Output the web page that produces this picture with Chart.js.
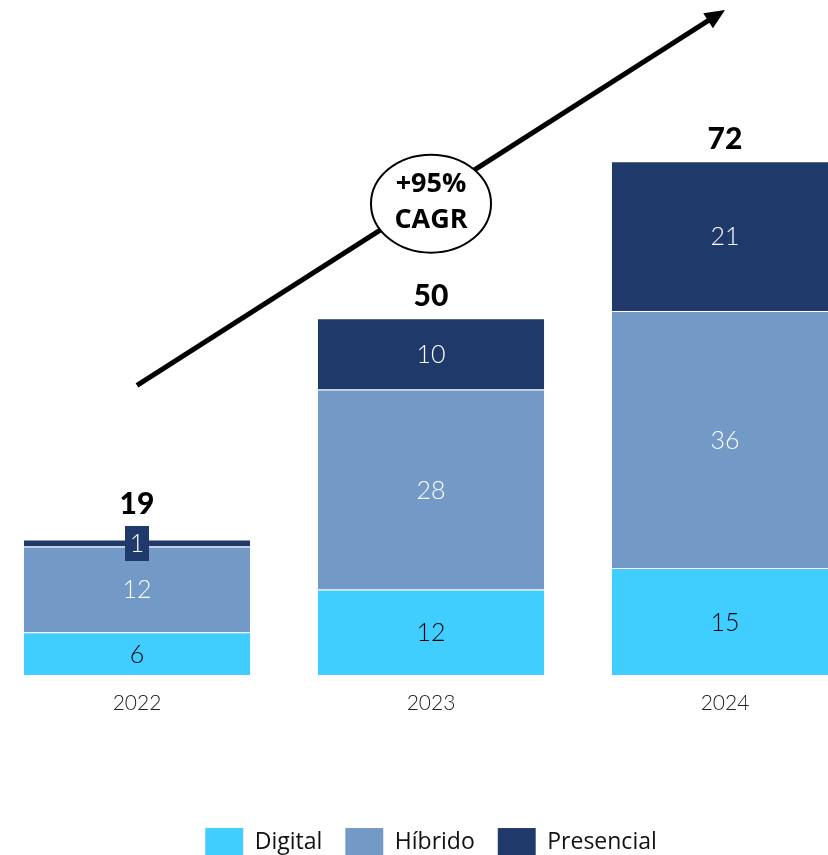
<!DOCTYPE html>
<html>
<head>
<meta charset="utf-8">
<script src="https://cdn.jsdelivr.net/npm/chart.js@4.4.1/dist/chart.umd.min.js"></script>
<style>
  html, body { margin: 0; padding: 0; background: #fff; overflow: hidden; }
  #wrap { position: absolute; left: -10px; top: 0; width: 882px; height: 867px; }
</style>
</head>
<body>
<div id="wrap"><canvas id="chart"></canvas></div>
<script>
const years = ["2022", "2023", "2024"];
const digital = [6, 12, 15];
const hibrido = [12, 28, 36];
const presencial = [1, 10, 21];
const totals = [19, 50, 72];
const cagrText = ["+95%", "CAGR"];
// arrow start/end as [category index, value]
const arrowFrom = [0, 40.6];
const arrowTo = [2, 93.2];

const labelColors = ["#000", "#fff", "#fff"];

const overlay = {
    id: "overlay",
    afterDatasetsDraw(chart) {
        const ctx = chart.ctx;
        const x = chart.scales.x, y = chart.scales.y;
        ctx.save();
        ctx.textAlign = "center";
        ctx.textBaseline = "middle";

        // segment labels
        chart.data.datasets.forEach((ds, di) => {
            const meta = chart.getDatasetMeta(di);
            meta.data.forEach((bar, i) => {
                const h = Math.abs(bar.base - bar.y);
                const cy = (bar.y + bar.base) / 2;
                ctx.font = "300 25px Lato, 'DejaVu Sans', sans-serif";
                if (h < 20) {
                    ctx.fillStyle = ds.backgroundColor;
                    ctx.fillRect(bar.x - 12, cy - 17, 24, 35);
                }
                ctx.fillStyle = labelColors[di];
                ctx.fillText(String(ds.data[i]), bar.x, cy + 1);
            });
        });

        // totals
        const last = chart.getDatasetMeta(2);
        last.data.forEach((bar, i) => {
            const h = Math.abs(bar.base - bar.y);
            const top = h < 20 ? (bar.y + bar.base) / 2 - 17 : bar.y;
            ctx.font = "900 30px Lato, 'DejaVu Sans', sans-serif";
            ctx.fillStyle = "#000";
            ctx.fillText(String(totals[i]), bar.x, top - 22);
        });

        // arrow
        const x1 = x.getPixelForValue(arrowFrom[0]), y1 = y.getPixelForValue(arrowFrom[1]);
        const x2 = x.getPixelForValue(arrowTo[0]), y2 = y.getPixelForValue(arrowTo[1]);
        const ang = Math.atan2(y2 - y1, x2 - x1);
        const head = 22;
        ctx.strokeStyle = "#000";
        ctx.lineWidth = 5;
        ctx.beginPath();
        ctx.moveTo(x1, y1);
        ctx.lineTo(x2 - Math.cos(ang) * head * 0.8, y2 - Math.sin(ang) * head * 0.8);
        ctx.stroke();
        ctx.fillStyle = "#000";
        ctx.beginPath();
        ctx.moveTo(x2, y2);
        ctx.lineTo(x2 - head * Math.cos(ang - 0.42), y2 - head * Math.sin(ang - 0.42));
        ctx.lineTo(x2 - head * Math.cos(ang + 0.42), y2 - head * Math.sin(ang + 0.42));
        ctx.closePath();
        ctx.fill();

        // CAGR bubble
        const mx = (x1 + x2) / 2, my = (y1 + y2) / 2 + 3;
        ctx.beginPath();
        ctx.ellipse(mx, my + 3, 60, 49, 0, 0, Math.PI * 2);
        ctx.fillStyle = "#fff";
        ctx.fill();
        ctx.lineWidth = 2;
        ctx.stroke();
        ctx.fillStyle = "#000";
        ctx.font = "bold 27px 'Open Sans', 'DejaVu Sans', sans-serif";
        ctx.fillText(cagrText[0], mx, my - 16);
        ctx.fillText(cagrText[1], mx, my + 20);
        ctx.restore();
    }
};

new Chart(document.getElementById("chart"), {
    type: "bar",
    data: {
        labels: years,
        datasets: [
            { label: "Digital", data: digital, backgroundColor: "#40CDFF" },
            { label: "Híbrido", data: hibrido, backgroundColor: "#7399C6" },
            { label: "Presencial", data: presencial, backgroundColor: "#1F396B" }
        ]
    },
    options: {
        responsive: true,
        maintainAspectRatio: false,
        animation: false,
        layout: { padding: 0 },
        datasets: {
            bar: {
                barPercentage: 1,
                categoryPercentage: 0.77,
                borderColor: "rgba(255,255,255,0.35)",
                borderWidth: { top: 1 }
            }
        },
        scales: {
            x: {
                stacked: true,
                grid: { display: false },
                border: { display: false },
                ticks: {
                    color: "#222",
                    font: { family: "Lato", size: 21, weight: "300" },
                    padding: 8
                },
                afterFit(s) { s.height = 130; }
            },
            y: {
                stacked: true,
                display: false,
                min: 0,
                max: 94.6
            }
        },
        plugins: {
            legend: {
                position: "bottom",
                labels: {
                    boxWidth: 38,
                    boxHeight: 29,
                    padding: 23,
                    color: "#111",
                    font: { family: "'Open Sans'", size: 23 }
                }
            },
            tooltip: { enabled: false }
        }
    },
    plugins: [overlay]
});
</script>
</body>
</html>
